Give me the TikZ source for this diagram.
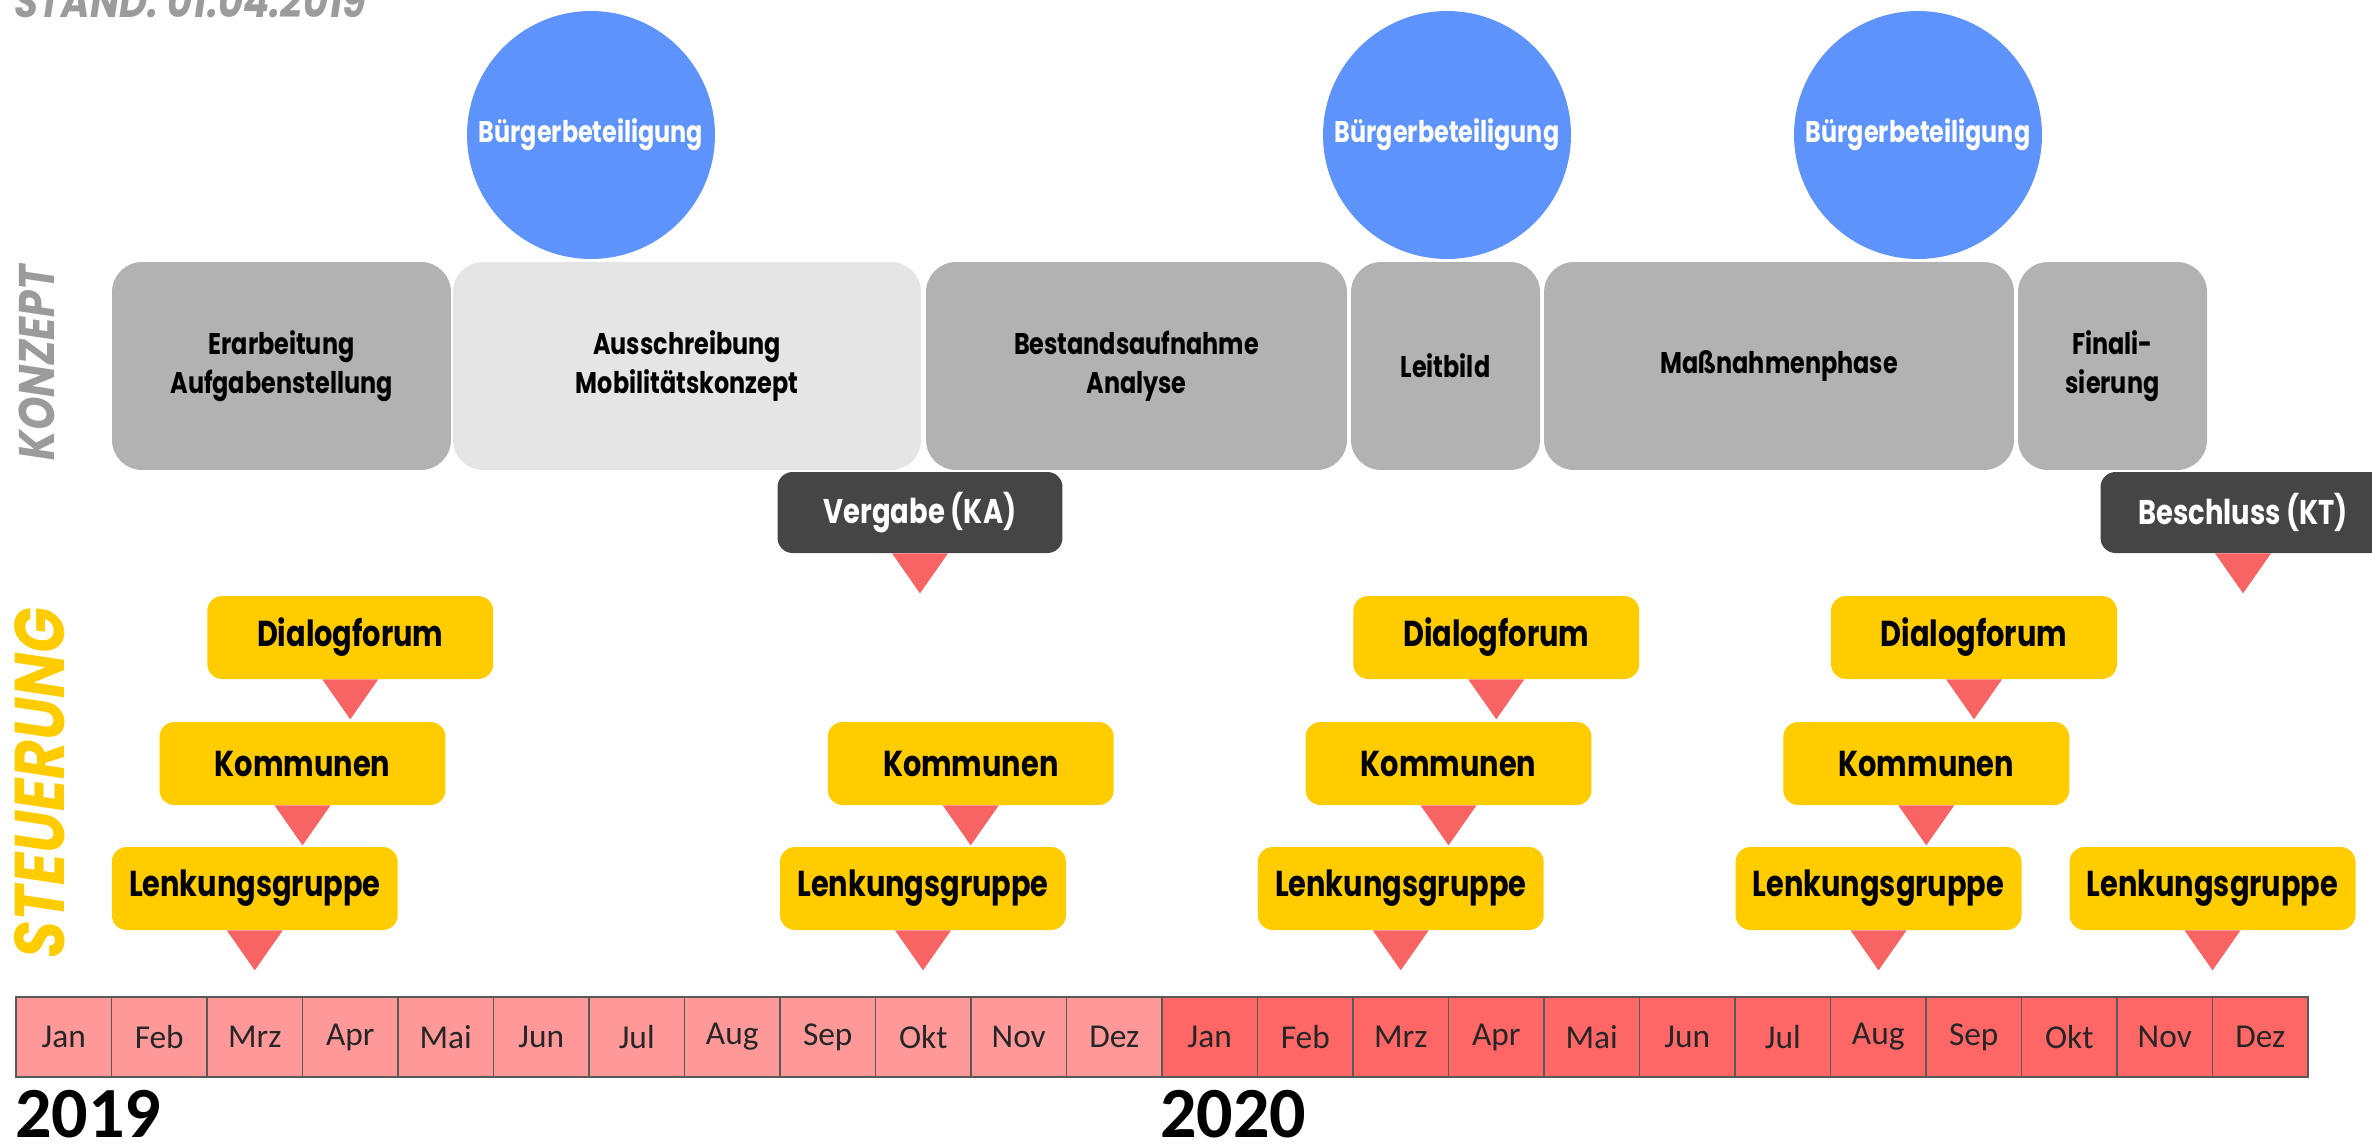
\documentclass[tikz,border=0pt]{standalone}
\usepackage{fontspec}
\setmainfont{Carlito}
\newfontfamily\boxfont[FakeStretch=0.8]{Poppins}
\newfontfamily\headfont[FakeStretch=0.85]{Poppins}
\usepackage{xcolor}
\usetikzlibrary{shapes,positioning,calc}

\definecolor{bbblue}{RGB}{93,147,250}
\definecolor{phasegray}{RGB}{178,178,178}
\definecolor{phaselight}{RGB}{229,229,229}
\definecolor{decision}{RGB}{69,69,69}
\definecolor{gremium}{RGB}{255,204,0}
\definecolor{pointred}{RGB}{248,100,100}
\definecolor{yearA}{RGB}{255,153,153}
\definecolor{yearB}{RGB}{255,102,102}
\definecolor{labelgray}{RGB}{155,155,155}

\begin{document}
\begin{tikzpicture}[x=0.02cm,y=-0.02cm,
  phase/.style={fill=phasegray,rounded corners=0.6cm,minimum height=4.16cm,inner sep=0pt,align=center,font=\boxfont\bfseries\fontsize{17}{22}\selectfont},
  buerger/.style={circle,fill=bbblue,minimum size=4.96cm,inner sep=0pt,text=white,font=\boxfont\bfseries\fontsize{17}{22}\selectfont},
  gremiumbox/.style={fill=gremium,rounded corners=0.3cm,minimum width=5.72cm,minimum height=1.66cm,inner sep=0pt,font=\boxfont\bfseries\fontsize{20.5}{24}\selectfont},
  beschlussbox/.style={fill=decision,rounded corners=0.3cm,minimum width=5.7cm,minimum height=1.62cm,inner sep=0pt,text=white,font=\boxfont\bfseries\fontsize{19.5}{24}\selectfont},
  monat/.style={draw=black!65,line width=0.03cm,minimum width=1.91cm,minimum height=1.6cm,inner sep=0pt,text=black!85,font=\fontsize{19}{22}\selectfont},
  pointer/.style={fill=pointred},
  seitenlabel/.style={rotate=90,font=\headfont\bfseries\itshape}]
\useasboundingbox (0,0) rectangle (2372,1146);
\clip (0,0) rectangle (2372,1146);

% Stand
\node[anchor=base west,text=labelgray,inner sep=0pt,font=\headfont\bfseries\itshape\fontsize{26}{30}\selectfont] (stand) at (14,17) {STAND: 01.04.2019};

% Seitenbeschriftung
\node[seitenlabel,text=labelgray,font=\headfont\bfseries\itshape\fontsize{28.5}{30}\selectfont] (konzept) at (37,363) {KONZEPT};
\node[seitenlabel,text=gremium,font=\headfont\bfseries\itshape\fontsize{40}{42}\selectfont] (steuerung) at (40,783) {STEUERUNG};

% Buergerbeteiligung
\node[buerger] (bb1) at (591,135) {Bürgerbeteiligung};
\node[buerger] (bb2) at (1447,135) {Bürgerbeteiligung};
\node[buerger] (bb3) at (1918,135) {Bürgerbeteiligung};

% Konzeptphasen
\node[phase,minimum width=6.78cm] (ph1) at (281.5,366) {Erarbeitung\\Aufgabenstellung};
\node[phase,fill=phaselight,minimum width=9.36cm] (ph2) at (687,366) {Ausschreibung\\Mobilitätskonzept};
\node[phase,minimum width=8.42cm] (ph3) at (1136.5,366) {Bestandsaufnahme\\Analyse};
\node[phase,minimum width=3.78cm] (ph4) at (1445.5,366) {Leitbild};
\node[phase,minimum width=9.4cm] (ph5) at (1779,366) {Maßnahmenphase};
\node[phase,minimum width=3.78cm] (ph6) at (2112.5,366) {Finali-\\sierung};

% Beschluesse
\node[beschlussbox] (vg) at (920,512.5) {Vergabe (KA)};
\node[beschlussbox] (bs) at (2243,512.5) {Beschluss (KT)};

% Steuerung
\node[gremiumbox] (df1) at (350.25,637.5) {Dialogforum};
\node[gremiumbox] (km1) at (302.5,763.5) {Kommunen};
\node[gremiumbox] (lg1) at (254.75,888.5) {Lenkungsgruppe};
\node[gremiumbox] (km2) at (970.75,763.5) {Kommunen};
\node[gremiumbox] (lg2) at (923,888.5) {Lenkungsgruppe};
\node[gremiumbox] (df3) at (1496.25,637.5) {Dialogforum};
\node[gremiumbox] (km3) at (1448.5,763.5) {Kommunen};
\node[gremiumbox] (lg3) at (1400.75,888.5) {Lenkungsgruppe};
\node[gremiumbox] (df4) at (1974,637.5) {Dialogforum};
\node[gremiumbox] (km4) at (1926.25,763.5) {Kommunen};
\node[gremiumbox] (lg4) at (1878.5,888.5) {Lenkungsgruppe};
\node[gremiumbox] (lg5) at (2212.5,888.5) {Lenkungsgruppe};

% Dreiecke
\foreach \n in {df1,km1,lg1,km2,lg2,df3,km3,lg3,df4,km4,lg4,lg5,vg,bs}
  \fill[pointer] (\n.south) ++(-28,0) -- ++(56,0) -- ++(-28,40) -- cycle;

% Monate
\foreach \m [count=\i] in {Jan,Feb,Mrz,Apr,Mai,Jun,Jul,Aug,Sep,Okt,Nov,Dez}
  \node[monat,fill=yearA] (a\i) at ({16+(\i-0.5)*95.5},1037) {\m};
\foreach \m [count=\i] in {Jan,Feb,Mrz,Apr,Mai,Jun,Jul,Aug,Sep,Okt,Nov,Dez}
  \node[monat,fill=yearB] (b\i) at ({1162+(\i-0.5)*95.5},1037) {\m};

% Jahre
\node[anchor=base west,inner sep=0pt,font=\bfseries\fontsize{41}{44}\selectfont] (j2019) at (15,1137) {2019};
\node[anchor=base west,inner sep=0pt,font=\bfseries\fontsize{41}{44}\selectfont] (j2020) at (1160,1137) {2020};
\end{tikzpicture}
\end{document}
